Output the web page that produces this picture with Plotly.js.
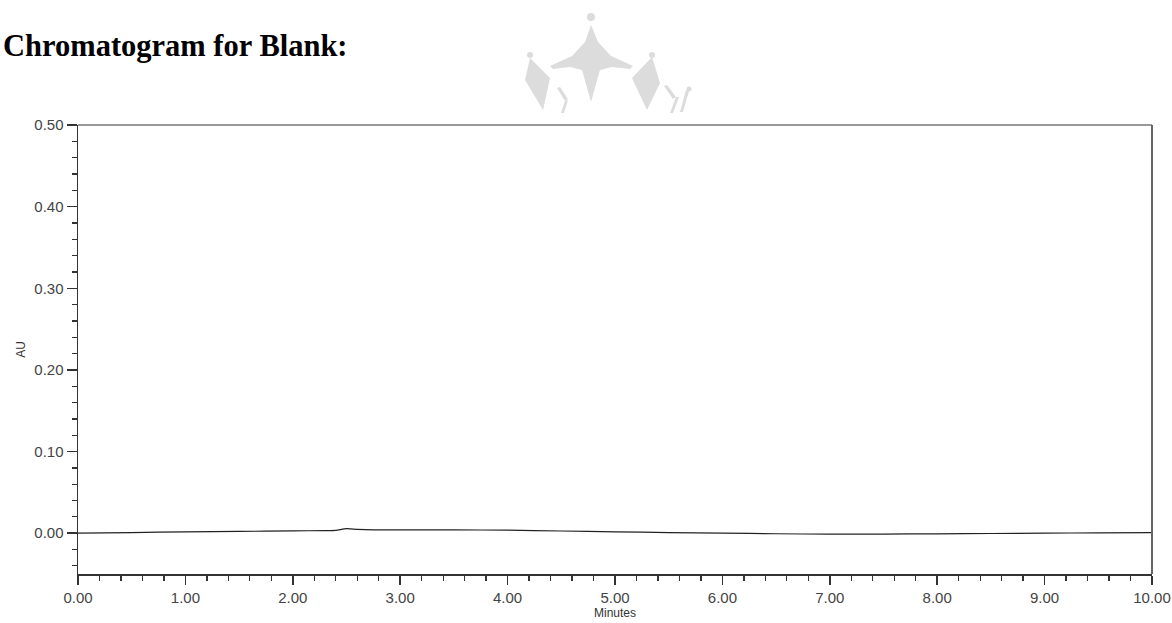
<!DOCTYPE html>
<html>
<head>
<meta charset="utf-8">
<script src="https://cdn.plot.ly/plotly-3.0.1.min.js"></script>
<style>html,body{margin:0;padding:0;background:#fff;}#chart{width:1172px;height:623px;}</style>
</head>
<body>
<div id="chart"></div>
<script>
// Chromatogram data
const timeMin = [0, 0.5, 1, 1.5, 2, 2.3, 2.4, 2.5, 2.6, 2.75, 3, 3.5, 4, 4.5, 5, 5.5, 6, 6.5, 7, 7.5, 8, 8.5, 9, 9.5, 10];
const absorbanceAU = [0.000, 0.0008, 0.0016, 0.0022, 0.0028, 0.0032, 0.0035, 0.0056, 0.0047, 0.0040, 0.0040, 0.0040, 0.0037, 0.0027, 0.0016, 0.0008, 0.0000, -0.0007, -0.0012, -0.0011, -0.0008, -0.0004, 0.0000, 0.0004, 0.0007];
const chartTitle = "Chromatogram for Blank:";
const xLabel = "Minutes";
const yLabel = "AU";

const W = 1172, H = 623;
const M = {l: 78, r: 20, t: 125, b: 49};
const pw = W - M.l - M.r, ph = H - M.t - M.b;
const px = x => (x - M.l) / pw;
const py = y => (H - M.b - y) / ph;
function path(pts) {
  return 'M ' + pts.map(p => px(p[0]).toFixed(4) + ',' + py(p[1]).toFixed(4)).join(' L ') + ' Z';
}
const wm = '#dcdcdc';
const watermark = [
  // central tent
  [[591,25],[585,42],[572,56],[550,66],[553,69],[570,67],[582,70],[591,102],[600,70],[612,67],[630,69],[633,66],[611,56],[598,42]],
  // left diamond
  [[530,58],[550,78],[543,110],[525,80]],
  // right diamond
  [[652,57],[660,83],[647,110],[632,78]],
  // right small strokes
  [[664,86],[667,85],[676,97],[673,99]],
  [[676,97],[679,97],[673,113],[670,113]],
  [[686,90],[689,91],[683,112],[680,112]],
  // left small strokes
  [[557,88],[560,87],[568,99],[565,101]],
  [[565,101],[568,100],[564,113],[561,113]]
];
const shapes = watermark.map(p => ({type: 'path', xref: 'paper', yref: 'paper', path: path(p), fillcolor: wm, line: {width: 0}, layer: 'below'}));
[[591,17,4],[530,55,3],[652,55,3],[689,89,2.5]].forEach(c => shapes.push({
  type: 'circle', xref: 'paper', yref: 'paper',
  x0: px(c[0]-c[2]), x1: px(c[0]+c[2]), y0: py(c[1]+c[2]), y1: py(c[1]-c[2]),
  fillcolor: wm, line: {width: 0}, layer: 'below'
}));
// top and right frame lines
shapes.push({type: 'line', xref: 'paper', yref: 'paper', x0: 0, x1: 1, y0: 1, y1: 1, line: {color: '#777', width: 1.5}});
shapes.push({type: 'line', xref: 'paper', yref: 'paper', x0: 1, x1: 1, y0: 0, y1: 1, line: {color: '#666', width: 2}});

const tickFont = {family: 'Liberation Sans, Arial, sans-serif', size: 15, color: '#444'};

const data = [{
  x: timeMin, y: absorbanceAU, type: 'scatter', mode: 'lines',
  line: {color: '#222', width: 1.2, shape: 'spline', smoothing: 0.6},
  hoverinfo: 'skip'
}];

const layout = {
  width: W, height: H,
  margin: M,
  paper_bgcolor: '#fff', plot_bgcolor: '#fff',
  showlegend: false,
  annotations: [{
    text: '<b>' + chartTitle + '</b>',
    font: {family: 'Liberation Serif, Times New Roman, serif', size: 30.5, color: '#000'},
    xref: 'paper', yref: 'paper',
    x: px(1), xanchor: 'left',
    y: py(46), yanchor: 'middle',
    showarrow: false
  }],
  xaxis: {
    range: [0, 10], tick0: 0, dtick: 1, tickformat: '.2f',
    showgrid: false, zeroline: false,
    showline: true, linecolor: '#333', linewidth: 1.5,
    ticks: 'outside', ticklen: 9, tickwidth: 1.5, tickcolor: '#333',
    tickfont: tickFont,
    minor: {dtick: 0.2, tick0: 0, ticks: 'outside', ticklen: 5, tickwidth: 1.3, tickcolor: '#333', showgrid: false},
    title: {text: xLabel, font: {family: 'Liberation Sans, Arial, sans-serif', size: 12, color: '#333'}, standoff: 4},
    fixedrange: true
  },
  yaxis: {
    range: [-0.05, 0.5], tick0: 0, dtick: 0.1, tickformat: '.2f',
    showgrid: false, zeroline: false,
    showline: true, linecolor: '#333', linewidth: 1.5,
    ticks: 'outside', ticklen: 10, tickwidth: 1.5, tickcolor: '#333',
    tickfont: tickFont,
    minor: {dtick: 0.02, tick0: 0, ticks: 'outside', ticklen: 5, tickwidth: 1.3, tickcolor: '#333', showgrid: false},
    title: {text: yLabel, font: {family: 'Liberation Sans, Arial, sans-serif', size: 12, color: '#333'}, standoff: 6},
    fixedrange: true
  },
  shapes: shapes
};

Plotly.newPlot('chart', data, layout, {displayModeBar: false, staticPlot: true});
</script>
</body>
</html>
